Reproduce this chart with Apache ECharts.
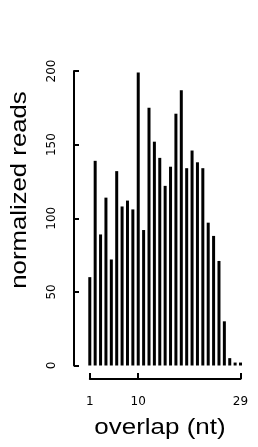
<!DOCTYPE html>
<html>
<head>
<meta charset="utf-8">
<script src="https://cdn.jsdelivr.net/npm/echarts@6/dist/echarts.min.js"></script>
<style>
html,body{margin:0;padding:0;background:#fff;}
#chart{width:258px;height:447px;}
</style>
</head>
<body>
<div id="chart"></div>
<script>
var categories = [1,2,3,4,5,6,7,8,9,10,11,12,13,14,15,16,17,18,19,20,21,22,23,24,25,26,27,28,29];
var readValues = [60,139,89,114,72,132,108,112,106,199,92,175,152,141,122,135,171,187,134,146,138,134,97,88,71,30,5,2,2];
var xTickValues = [1,10,29];
var xTitle = 'overlap (nt)';
var yTitle = 'normalized reads';

var chart = echarts.init(document.getElementById('chart'), null, {renderer:'canvas'});
chart.setOption({
  animation:false,
  backgroundColor:'#fff',
  grid:[
    {left:87.1, width:156.1, top:71, bottom:81.5},
    {left:89.8, right:17.5, top:71, bottom:81.5}
  ],
  xAxis:[
    {type:'category', gridIndex:0, data:categories, axisLine:{show:false}, axisTick:{show:false}, axisLabel:{show:false}, splitLine:{show:false}},
    {type:'value', gridIndex:1, min:1, max:29, offset:13.5,
     axisLine:{show:true, onZero:false, lineStyle:{color:'#000', width:2}},
     axisTick:{show:true, inside:true, length:6, customValues:xTickValues, lineStyle:{color:'#000', width:2}},
     axisLabel:{customValues:xTickValues, margin:17, color:'#000', fontFamily:'DejaVu Sans', fontSize:12},
     splitLine:{show:false}}
  ],
  yAxis:[
    {type:'value', gridIndex:0, min:0, max:200, interval:50, offset:13.1,
     axisLine:{show:true, onZero:false, lineStyle:{color:'#000', width:2}},
     axisTick:{show:true, inside:true, length:5, lineStyle:{color:'#000', width:2}},
     axisLabel:{rotate:90, margin:16, color:'#000', fontFamily:'DejaVu Sans', fontSize:12},
     splitLine:{show:false}},
    {type:'value', gridIndex:1, show:false, min:0, max:200}
  ],
  series:[{
    type:'bar', xAxisIndex:0, yAxisIndex:0, data:readValues, barWidth:3,
    itemStyle:{color:'#000'}
  }],
  graphic:[
    {type:'text', x:160, y:428, scaleX:1.18, style:{text:xTitle, fontSize:22, fontFamily:'Liberation Sans', fill:'#000', align:'center', verticalAlign:'middle'}},
    {type:'text', x:20, y:190, rotation:Math.PI/2, scaleX:1.17, style:{text:yTitle, fontSize:22, fontFamily:'Liberation Sans', fill:'#000', align:'center', verticalAlign:'middle'}}
  ]
});
</script>
</body>
</html>
